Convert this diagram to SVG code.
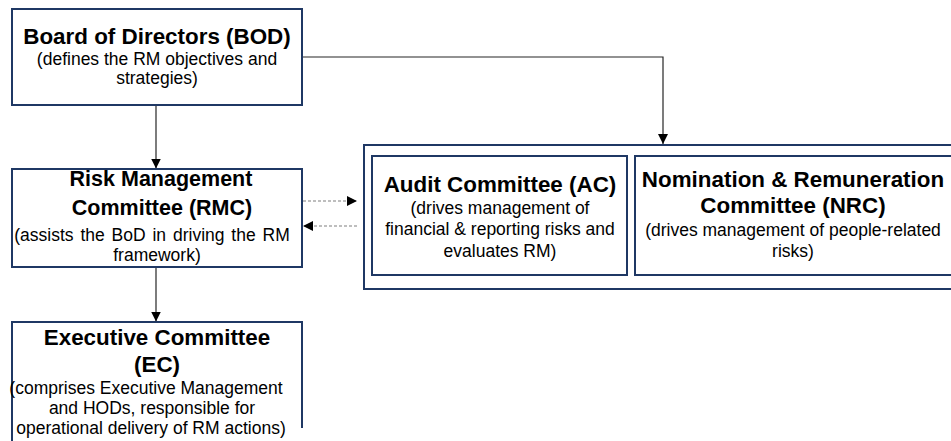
<svg xmlns="http://www.w3.org/2000/svg" width="951" height="441" viewBox="0 0 951 441">
<defs>
<style>
.box{fill:#fff;stroke:#1f3864;stroke-width:2}
.t{font-family:"Liberation Sans",Arial,sans-serif;font-weight:bold;font-size:22.4px;fill:#000;text-anchor:middle}
.s{font-family:"Liberation Sans",Arial,sans-serif;font-size:17.5px;fill:#000;text-anchor:middle}
.ln{fill:none;stroke:#262626;stroke-width:1.2}
.dl{fill:none;stroke:#7f7f7f;stroke-width:1.2;stroke-dasharray:3,2}
</style>
<marker id="ah" viewBox="0 0 10 10" refX="10" refY="5" markerWidth="10" markerHeight="10" markerUnits="userSpaceOnUse" orient="auto">
<path d="M0,0 L10,5 L0,10 z" fill="#000"/>
</marker>
</defs>
<rect width="951" height="441" fill="#fff"/>
<g id="connectors">
<path class="ln" d="M156,105 V168.5" marker-end="url(#ah)"/>
<path class="ln" d="M302,57 H663 V144" marker-end="url(#ah)"/>
<path class="ln" d="M156,267 V321.5" marker-end="url(#ah)"/>
<path class="dl" d="M303,201 H357" marker-end="url(#ah)"/>
<path class="dl" d="M357,226 H303" marker-end="url(#ah)"/>
</g>
<g id="bod">
<rect class="box" x="12" y="9" width="290" height="96"/>
<text class="t" x="157" y="44">Board of Directors (BOD)</text>
<text class="s" x="157" y="65">(defines the RM objectives and</text>
<text class="s" x="157" y="84">strategies)</text>
</g>
<g id="rmc">
<rect class="box" x="12" y="169" width="290" height="98"/>
<text class="t" x="161" y="186" style="font-size:21.5px">Risk Management</text>
<text class="t" x="162" y="215" style="font-size:21.5px">Committee (RMC)</text>
<text class="s" x="152" y="241" style="word-spacing:2px">(assists the BoD in driving the RM</text>
<text class="s" x="157" y="261">framework)</text>
</g>
<g id="committees">
<rect class="box" x="364" y="145" width="600" height="144"/>
</g>
<g id="ac">
<rect class="box" x="372" y="156" width="255" height="119"/>
<text class="t" x="500" y="192">Audit Committee (AC)</text>
<text class="s" x="500" y="214">(drives management  of</text>
<text class="s" x="500" y="235">financial &amp; reporting risks and</text>
<text class="s" x="500" y="257">evaluates RM)</text>
</g>
<g id="nrc">
<rect class="box" x="635" y="156" width="320" height="119"/>
<text class="t" x="793" y="187">Nomination &amp; Remuneration</text>
<text class="t" x="793" y="213">Committee (NRC)</text>
<text class="s" x="793" y="236">(drives management  of people-related</text>
<text class="s" x="793" y="257">risks)</text>
</g>
<g id="ec">
<path class="box" d="M12,445 V322 H302 V428"/>
<text class="t" x="157" y="345">Executive Committee</text>
<text class="t" x="157" y="372">(EC)</text>
<text class="s" x="146" y="394">(comprises Executive Management</text>
<text class="s" x="152" y="414">and HODs, responsible for</text>
<text class="s" x="151" y="434">operational delivery of RM actions)</text>
</g>
</svg>
